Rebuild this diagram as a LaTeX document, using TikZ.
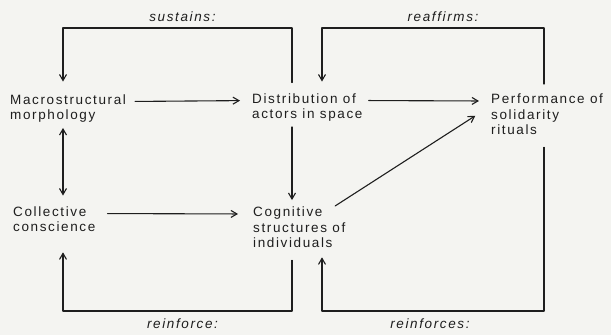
\documentclass[tikz,border=0pt]{standalone}
\usepackage{fontspec}
\setmainfont{Liberation Sans}[LetterSpace=12]
\usepackage{tikz}
\usetikzlibrary{arrows.meta, positioning}
\definecolor{paper}{RGB}{244,244,241}
\definecolor{ink}{RGB}{30,30,30}

\begin{document}
\begin{tikzpicture}[
  x=1pt,
  y=1pt,
  line cap=round,
  line join=round,
  box/.style={font=\fontsize{13.5}{15.5}\selectfont,text=ink,align=left,
    anchor=base west,inner sep=0pt},
  tag/.style={font=\fontsize{13.5}{15.5}\selectfont\itshape,text=ink,inner sep=0pt},
  link/.style={draw=ink,line width=1.1pt},
  conn/.style={link,-{Straight Barb[length=6pt,width=7pt]}},
  both/.style={link,{Straight Barb[length=6pt,width=7pt]}-{Straight Barb[length=6pt,width=7pt]}}
]

  % Paper
  \fill[paper] (0,0) rectangle (611,335);

  % Columns and rails of the feedback loops
  \coordinate (colA) at (63,0);
  \coordinate (colB) at (292,0);
  \coordinate (colC) at (322,0);
  \coordinate (colD) at (544,0);
  \coordinate (topline) at (0,307);
  \coordinate (botline) at (0,24);

  % The five terms (base = baseline of the last line)
  \node[box] (macro) at (10,215) {Macrostructural\\morphology};
  \node[box] (dist) at (252,216) {Distribution of\\actors in space};
  \node[box] (perf) at (491,200) {Performance of\\solidarity\\rituals};
  \node[box] (coll) at (13,103) {Collective\\conscience};
  \node[box] (cog) at (253,87) {Cognitive\\structures of\\individuals};

  % Forward links, level with the first lines
  \draw[conn,shorten <=9pt,shorten >=12pt]
    ([yshift=-7pt]macro.north east) -- ([yshift=-7pt]dist.north west);
  \draw[conn,shorten <=6pt,shorten >=12pt]
    ([yshift=-7pt]dist.north east) -- ([yshift=-7pt]perf.north west);
  \draw[conn,shorten <=12pt,shorten >=15pt]
    ([yshift=-7pt]coll.north east) -- ([yshift=-7pt]cog.north west);
  \draw[conn,shorten <=5pt,shorten >=7pt]
    (dist.south -| colB) -- (cog.north -| colB);
  \draw[both,shorten <=5pt,shorten >=11pt]
    (macro.south -| colA) -- (coll.north -| colA);
  \draw[conn,shorten <=2pt,shorten >=2pt]
    ([xshift=-12pt]cog.north east) -- ([xshift=-14pt]perf.west);

  % Feedback loops over the top
  \draw[conn,shorten <=11pt,shorten >=13pt]
    (dist.north -| colB) |- (colA |- topline)
    node[tag,pos=0.75,above=6pt,xshift=5pt] {sustains:}
    -- (macro.north -| colA);
  \draw[conn,shorten <=10pt,shorten >=12pt]
    (perf.north -| colD) |- (colC |- topline)
    node[tag,pos=0.75,above=6pt,xshift=10pt] {reaffirms:}
    -- (dist.north -| colC);

  % Feedback loops along the bottom
  \draw[conn,shorten <=12pt,shorten >=20pt]
    (cog.south -| colB) |- (colA |- botline)
    node[tag,pos=0.75,below=7pt,xshift=5pt] {reinforce:}
    -- (coll.south -| colA);
  \draw[conn,shorten <=12pt,shorten >=9pt]
    (perf.south -| colD) |- (colC |- botline)
    node[tag,pos=0.75,below=7pt,xshift=-3pt] {reinforces:}
    -- (cog.south -| colC);

\end{tikzpicture}
\end{document}
